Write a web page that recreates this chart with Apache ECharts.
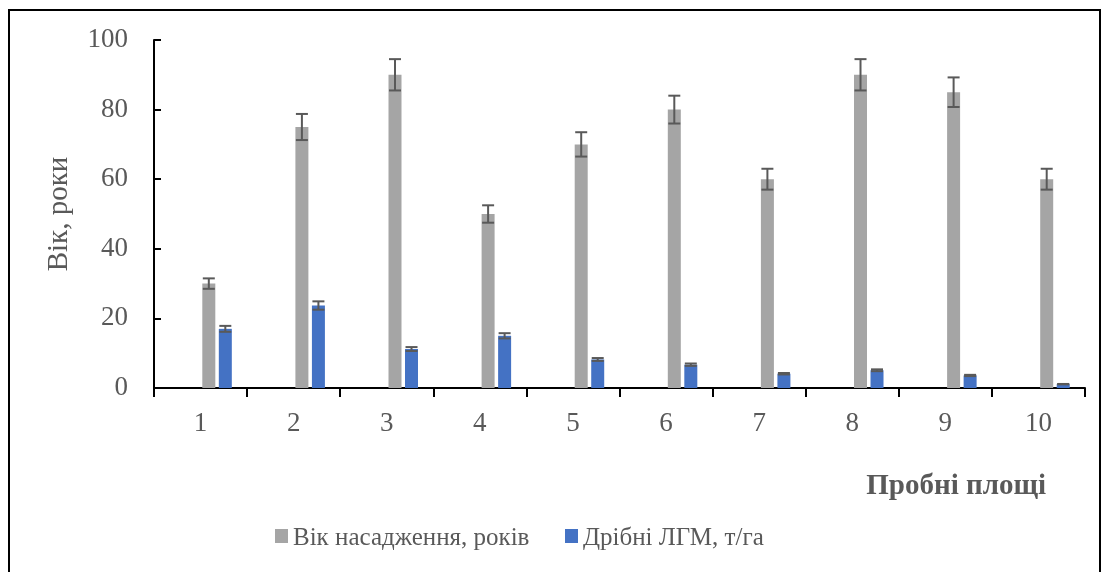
<!DOCTYPE html>
<html>
<head>
<meta charset="utf-8">
<script src="https://cdn.jsdelivr.net/npm/echarts@6/dist/echarts.min.js"></script>
<style>
  html, body { margin: 0; padding: 0; background: #fff; }
  #chart { width: 1109px; height: 572px; }
</style>
</head>
<body>
<div id="chart"></div>
<script>
// Sample plots
var plots = ['1', '2', '3', '4', '5', '6', '7', '8', '9', '10'];
// Stand age, years
var standAge = [30, 75, 90, 50, 70, 80, 60, 90, 85, 60];
var standAgeErr = [1.5, 3.75, 4.5, 2.5, 3.5, 4, 3, 4.5, 4.25, 3];
// Fine woody debris, t/ha
var fineDebris = [17, 23.7, 11.2, 15, 8.2, 6.7, 4.1, 5.1, 3.6, 1.1];
var fineDebrisErr = [0.85, 1.2, 0.56, 0.75, 0.41, 0.34, 0.21, 0.26, 0.18, 0.06];
// Two empty columns that sit before the plotted ones in each group
var emptyA = [0, 0, 0, 0, 0, 0, 0, 0, 0, 0];
var emptyB = [0, 0, 0, 0, 0, 0, 0, 0, 0, 0];
var yTicks = [0, 20, 40, 60, 80, 100];
var seriesNames = ['Вік насадження, років', 'Дрібні ЛГМ, т/га'];
var seriesColors = ['#A5A5A5', '#4472C4'];

var FONT = '"Liberation Serif", "Times New Roman", serif';
var TEXT = '#595959';
var BAR_W = 13;
var GAP_RATIO = 0.27;
var N_BARS = 4;

// centre offset (px) of the i-th column inside a category group
function barOffset(i) {
  var gap = BAR_W * GAP_RATIO;
  var total = N_BARS * BAR_W + (N_BARS - 1) * gap;
  return -total / 2 + BAR_W / 2 + i * (BAR_W + gap);
}

function errorSeries(values, errs, barIndex) {
  var data = values.map(function (v, i) { return [i, v - errs[i], v + errs[i]]; });
  return {
    type: 'custom',
    silent: true,
    z: 5,
    data: data,
    encode: { x: 0, y: [1, 2] },
    renderItem: function (params, api) {
      var idx = api.value(0);
      var lo = api.coord([idx, api.value(1)]);
      var hi = api.coord([idx, api.value(2)]);
      var x = lo[0] + barOffset(barIndex);
      var hw = 6;
      var st = { stroke: '#595959', lineWidth: 2 };
      return {
        type: 'group',
        children: [
          { type: 'line', shape: { x1: x, y1: lo[1], x2: x, y2: hi[1] }, style: st },
          { type: 'line', shape: { x1: x - hw, y1: hi[1], x2: x + hw, y2: hi[1] }, style: st },
          { type: 'line', shape: { x1: x - hw, y1: lo[1], x2: x + hw, y2: lo[1] }, style: st }
        ]
      };
    }
  };
}

// legend drawn as swatch + label pairs
var legendX = [275, 565];
var legendY = 536;
var legendItems = [];
seriesNames.forEach(function (name, i) {
  legendItems.push({
    type: 'rect',
    shape: { x: legendX[i], y: legendY - 7, width: 13, height: 14 },
    style: { fill: seriesColors[i] },
    silent: true
  });
  legendItems.push({
    type: 'text',
    x: legendX[i] + 18,
    y: legendY + 2,
    style: {
      text: name,
      font: '25px ' + FONT,
      fill: TEXT,
      verticalAlign: 'middle',
      align: 'left'
    },
    silent: true
  });
});

var chart = echarts.init(document.getElementById('chart'), null, { renderer: 'canvas' });

chart.setOption({
  animation: false,
  backgroundColor: '#fff',
  textStyle: { fontFamily: FONT },
  grid: { left: 154, right: 24, top: 40, bottom: 184 },
  legend: { show: false, data: seriesNames },
  xAxis: {
    type: 'category',
    data: plots,
    boundaryGap: true,
    axisLine: { lineStyle: { color: '#000', width: 2 } },
    axisTick: { show: true, length: 9, lineStyle: { color: '#000', width: 2 } },
    axisLabel: { fontFamily: FONT, fontSize: 27, color: TEXT, margin: 22 }
  },
  yAxis: {
    type: 'value',
    min: yTicks[0],
    max: yTicks[yTicks.length - 1],
    interval: 20,
    name: 'Вік, роки',
    nameLocation: 'middle',
    nameRotate: 90,
    nameGap: 80,
    nameTextStyle: { fontFamily: FONT, fontSize: 29, color: TEXT },
    splitLine: { show: false },
    axisLine: { show: true, lineStyle: { color: '#000', width: 2 } },
    axisTick: { show: true, inside: true, length: 7, lineStyle: { color: '#000', width: 2 } },
    axisLabel: { fontFamily: FONT, fontSize: 27, color: TEXT, margin: 26 }
  },
  graphic: [
    {
      type: 'rect',
      shape: { x: 9, y: 10, width: 1091, height: 600 },
      style: { fill: 'none', stroke: '#000', lineWidth: 2 },
      silent: true
    },
    {
      type: 'text',
      right: 1109 - 1046,
      top: 472,
      style: { text: 'Пробні площі', font: 'bold 29px ' + FONT, fill: TEXT }
    }
  ].concat(legendItems),
  series: [
    { name: 'empty A', type: 'bar', data: emptyA, barWidth: BAR_W, barGap: (GAP_RATIO * 100) + '%', itemStyle: { color: '#ededed' } },
    { name: 'empty B', type: 'bar', data: emptyB, barWidth: BAR_W, barGap: (GAP_RATIO * 100) + '%', itemStyle: { color: '#ededed' } },
    { name: seriesNames[0], type: 'bar', data: standAge, barWidth: BAR_W, barGap: (GAP_RATIO * 100) + '%', itemStyle: { color: seriesColors[0] } },
    { name: seriesNames[1], type: 'bar', data: fineDebris, barWidth: BAR_W, barGap: (GAP_RATIO * 100) + '%', itemStyle: { color: seriesColors[1] } },
    errorSeries(standAge, standAgeErr, 2),
    errorSeries(fineDebris, fineDebrisErr, 3)
  ]
});
</script>
</body>
</html>
